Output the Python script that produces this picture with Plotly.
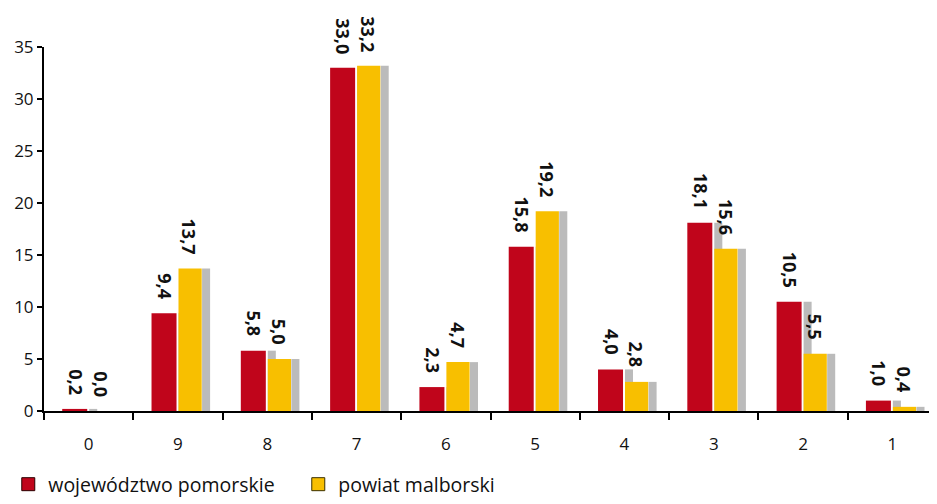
import plotly.graph_objects as go

categories = ["0", "9", "8", "7", "6", "5", "4", "3", "2", "1"]
wojewodztwo = [0.2, 9.4, 5.8, 33.0, 2.3, 15.8, 4.0, 18.1, 10.5, 1.0]
powiat = [0.0, 13.7, 5.0, 33.2, 4.7, 19.2, 2.8, 15.6, 5.5, 0.4]
series_names = ["województwo pomorskie", "powiat malborski"]
colors = ["#c0051b", "#f8bf00"]
edge_colors = ["#2a0000", "#3a3000"]

def fmt(v):
    return f"{v:.1f}".replace(".", ",")

FONT = "Open Sans"
fig = go.Figure()

# shadows (behind)
for vals, off in [(wojewodztwo, 0.006), (powiat, 0.27)]:
    fig.add_trace(go.Bar(
        x=categories, y=vals, offset=off, width=0.09,
        marker=dict(color="rgba(120,120,120,0.5)", line=dict(width=0)),
        showlegend=False, hoverinfo="skip"))

for vals, name, col, off, w in [(wojewodztwo, series_names[0], colors[0], -0.296, 0.28),
                                (powiat, series_names[1], colors[1], 0.006, 0.26)]:
    fig.add_trace(go.Bar(
        x=categories, y=vals, name=name, offset=off, width=w,
        marker=dict(color=col, line=dict(width=0)), showlegend=False,
    ))

# legend entries with outlined squares
for name, col, ec in zip(series_names, colors, edge_colors):
    fig.add_trace(go.Scatter(
        x=[None], y=[None], mode="markers", name=name,
        marker=dict(symbol="square", size=13, color=col, line=dict(color=ec, width=1))))

annotations = []
for vals, shift in [(wojewodztwo, -13), (powiat, 12)]:
    for i, v in enumerate(vals):
        annotations.append(dict(
            x=i, y=v, xref="x", yref="y", text=fmt(v), showarrow=False, textangle=90,
            xshift=shift, yshift=12, yanchor="bottom", xanchor="center",
            font=dict(family=FONT, size=18, color="#111", weight="bold")))

# page body has an 8px margin: figure is sized/placed to compensate
fig.update_layout(
    width=929, height=496,
    margin=dict(l=34, r=0, t=39, b=93),
    paper_bgcolor="white", plot_bgcolor="white",
    barmode="overlay",
    annotations=annotations,
    font=dict(family=FONT, size=17, color="#111"),
    legend=dict(orientation="h", x=-0.04, y=-0.2555, xanchor="left", yanchor="bottom",
                font=dict(family=FONT, size=19.5, color="#111"),
                traceorder="normal", entrywidth=245),
    xaxis=dict(type="category", showline=True, linecolor="black", linewidth=2,
               ticks="outside", tickson="boundaries", ticklen=7, tickwidth=2,
               tickcolor="black", showgrid=False, tickfont=dict(size=17), automargin=False,
               ticklabelstandoff=17),
    yaxis=dict(range=[0, 35], dtick=5, showline=True, linecolor="black", linewidth=2,
               ticks="outside", ticklen=5, tickwidth=2, tickcolor="black",
               showgrid=False, zeroline=False, tickfont=dict(size=17), automargin=False),
)
fig.write_html("out.html")
